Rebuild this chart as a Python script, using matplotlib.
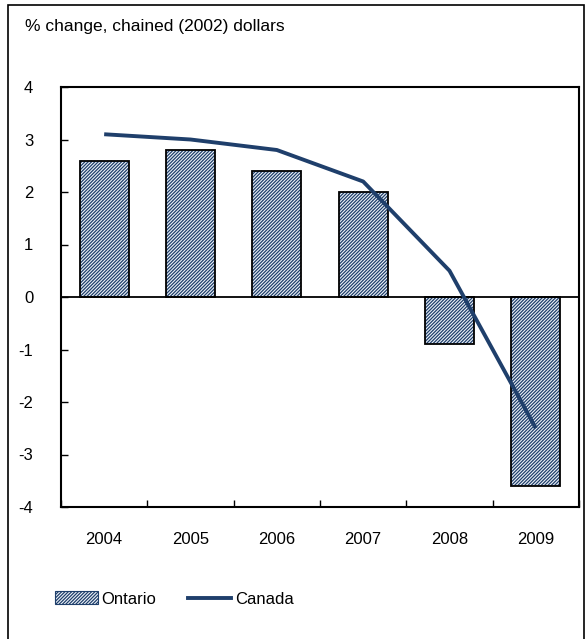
import matplotlib
matplotlib.use("Agg")
import matplotlib.pyplot as plt
import matplotlib.patches as mpatches
from matplotlib.lines import Line2D
import numpy as np

plt.rcParams['font.family'] = ['Liberation Sans', 'DejaVu Sans']
plt.rcParams['hatch.linewidth'] = 0.9

years = ['2004', '2005', '2006', '2007', '2008', '2009']
ontario = [2.6, 2.8, 2.4, 2.0, -0.9, -3.6]
canada = [3.1, 3.0, 2.8, 2.2, 0.5, -2.5]
y_ticks = [-4, -3, -2, -1, 0, 1, 2, 3, 4]

navy = '#1f3f6b'
fill_blue = '#eef3f9'
hatch = '/' * 10
fs = 12
W, H = 587, 639

fig = plt.figure(figsize=(W / 100, H / 100), dpi=100)
ax = fig.add_axes([61 / W, 1 - 507 / H, (579 - 61) / W, (507 - 87) / H])

x = np.arange(len(years))
# hatched fill first, then a plain black outline on top
ax.bar(x, ontario, width=0.57, color=fill_blue, edgecolor=navy,
       hatch=hatch, linewidth=0, zorder=2)
ax.bar(x, ontario, width=0.57, fill=False, edgecolor='black',
       linewidth=1.3, zorder=3)
ax.plot(x, canada, color=navy, linewidth=2.8, zorder=4,
        solid_capstyle='butt')
ax.axhline(0, color='black', linewidth=1.3, zorder=3)

ax.set_xlim(-0.5, len(years) - 0.5)
ax.set_ylim(-4, 4)
ax.set_yticks(y_ticks)
ax.set_yticklabels([str(v) for v in y_ticks], fontsize=fs)
ax.set_xticks(np.arange(len(years) + 1) - 0.5, minor=False)
ax.set_xticklabels([])
ax.set_xticks(x, minor=True)
ax.set_xticklabels(years, minor=True, fontsize=fs)
ax.tick_params(axis='x', which='major', direction='in', length=5, width=1)
ax.tick_params(axis='x', which='minor', length=0, pad=18)
ax.tick_params(axis='y', direction='in', length=5, width=1, pad=20)
for s in ax.spines.values():
    s.set_linewidth(1.5)

fig.text(25 / W, 1 - 27 / H, '% change, chained (2002) dollars',
         fontsize=12.5, va='center', ha='left')

handles = [mpatches.Patch(facecolor=fill_blue, edgecolor=navy, hatch=hatch,
                          linewidth=0.8),
           Line2D([0], [0], color=navy, linewidth=2.8)]
fig.legend(handles, ['Ontario', 'Canada'], ncol=2, frameon=False,
           loc='center left', bbox_to_anchor=(40 / W, 1 - 599 / H),
           fontsize=fs, handlelength=2.55, handletextpad=0.25,
           columnspacing=1.9, handleheight=0.8)

fig.add_artist(mpatches.Rectangle((8 / W, -0.05), (584 - 8) / W,
                                  1.05 - 5 / H, transform=fig.transFigure,
                                  fill=False, edgecolor='black', linewidth=1.2))

fig.savefig('out.png', dpi=100)
